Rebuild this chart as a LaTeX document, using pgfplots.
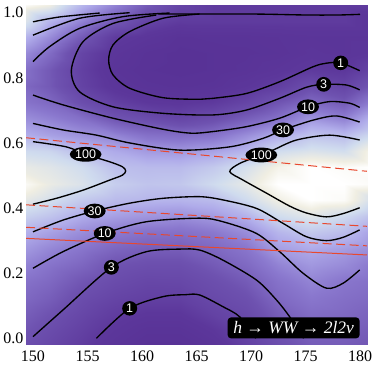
\documentclass[border=0pt]{standalone}
\usepackage{fontspec}
\setmainfont{Liberation Serif}
\newfontfamily\labfont{Liberation Sans}
\usepackage{pgfplots}
\pgfplotsset{compat=1.18}
\usetikzlibrary{shapes.geometric}

\definecolor{redline}{RGB}{232,72,46}
\pgfplotsset{
  colormap={purp}{rgb255(0cm)=(88,50,150) rgb255(4cm)=(92,55,155) rgb255(10cm)=(110,82,176)
    rgb255(15cm)=(138,120,206) rgb255(20cm)=(176,172,234) rgb255(25cm)=(208,220,238)
    rgb255(28cm)=(240,238,226) rgb255(30cm)=(255,255,255)},
  ct/.style={black, line width=1.35bp, smooth, mark=none},
  rd/.style={redline, line width=1bp, mark=none},
  rdd/.style={rd, dash pattern=on 9bp off 4.5bp},
}
\tikzset{
  lbl/.style={fill=black, text=white, ellipse, inner sep=0.8bp, minimum width=15bp,
    minimum height=14.5bp, font=\labfont\fontsize{12.5bp}{13bp}\selectfont},
}

\begin{document}
\begin{tikzpicture}
\begin{axis}[
  at={(26bp,24bp)}, anchor=south west,
  scale only axis, width=341bp, height=339bp,
  xmin=149.358, xmax=180.642, ymin=-0.0175, ymax=1.0237,
  xtick={150,155,...,180}, ytick={0,0.2,0.4,0.6,0.8,1.0},
  minor x tick num=4, minor y tick num=3,
  tick align=inside, major tick length=4.5bp, minor tick length=2.5bp,
  tick style={gray!60, line width=0.5bp},
  axis line style={gray!45, line width=0.6bp},
  ticklabel style={font=\fontsize{16bp}{19bp}\selectfont},
  /pgf/number format/assume math mode=true,
  xticklabel style={yshift=-3bp},
  yticklabel style={xshift=1bp, /pgf/number format/.cd, fixed, fixed zerofill, precision=1},
  colormap name=purp, point meta min=-0.5, point meta max=2.5,
]
% background (log10 of the plotted quantity)
\addplot[matrix plot*, shader=interp, mesh/cols=11, point meta=explicit]
  table[row sep=\\, meta=L] {
x y L\\
150 0 0.45\\ 153 0 0.25\\ 156 0 0.0\\ 159 0 -0.3\\ 162 0 -0.5\\ 165 0 -0.5\\ 168 0 -0.3\\ 171 0 0.1\\ 174 0 0.4\\ 177 0 0.62\\ 180 0 0.62\\
150 0.05 0.6\\ 153 0.05 0.37\\ 156 0.05 0.12\\ 159 0.05 -0.15\\ 162 0.05 -0.35\\ 165 0.05 -0.35\\ 168 0.05 -0.1\\ 171 0.05 0.2\\ 174 0.05 0.5\\ 177 0.05 0.72\\ 180 0.05 0.7\\
150 0.1 0.72\\ 153 0.1 0.5\\ 156 0.1 0.25\\ 159 0.1 0.02\\ 162 0.1 -0.12\\ 165 0.1 -0.12\\ 168 0.1 0.15\\ 171 0.1 0.32\\ 174 0.1 0.65\\ 177 0.1 0.85\\ 180 0.1 0.8\\
150 0.15 0.85\\ 153 0.15 0.66\\ 156 0.15 0.38\\ 159 0.15 0.2\\ 162 0.15 0.1\\ 165 0.15 0.1\\ 168 0.15 0.3\\ 171 0.15 0.45\\ 174 0.15 0.8\\ 177 0.15 0.98\\ 180 0.15 0.88\\
150 0.2 0.96\\ 153 0.2 0.8\\ 156 0.2 0.55\\ 159 0.2 0.36\\ 162 0.2 0.25\\ 165 0.2 0.27\\ 168 0.2 0.42\\ 171 0.2 0.62\\ 174 0.2 0.92\\ 177 0.2 1.12\\ 180 0.2 0.97\\
150 0.25 1.15\\ 153 0.25 0.94\\ 156 0.25 0.76\\ 159 0.25 0.5\\ 162 0.25 0.42\\ 165 0.25 0.42\\ 168 0.25 0.6\\ 171 0.25 0.8\\ 174 0.25 1.1\\ 177 0.25 1.3\\ 180 0.25 1.18\\
150 0.3 1.37\\ 153 0.3 1.14\\ 156 0.3 0.95\\ 159 0.3 0.75\\ 162 0.3 0.65\\ 165 0.3 0.65\\ 168 0.3 0.78\\ 171 0.3 0.96\\ 174 0.3 1.35\\ 177 0.3 1.48\\ 180 0.3 1.35\\
150 0.35 1.6\\ 153 0.35 1.4\\ 156 0.35 1.2\\ 159 0.35 1.03\\ 162 0.35 0.92\\ 165 0.35 0.9\\ 168 0.35 1.0\\ 171 0.35 1.2\\ 174 0.35 1.6\\ 177 0.35 1.8\\ 180 0.35 1.68\\
150 0.4 1.93\\ 153 0.4 1.75\\ 156 0.4 1.5\\ 159 0.4 1.37\\ 162 0.4 1.28\\ 165 0.4 1.22\\ 168 0.4 1.33\\ 171 0.4 1.55\\ 174 0.4 2.0\\ 177 0.4 2.15\\ 180 0.4 1.98\\
150 0.45 2.25\\ 153 0.45 2.05\\ 156 0.45 1.8\\ 159 0.45 1.65\\ 162 0.45 1.6\\ 165 0.45 1.58\\ 168 0.45 1.65\\ 171 0.45 1.98\\ 174 0.45 2.3\\ 177 0.45 2.5\\ 180 0.45 2.45\\
150 0.5 2.6\\ 153 0.5 2.25\\ 156 0.5 2.1\\ 159 0.5 1.85\\ 162 0.5 1.75\\ 165 0.5 1.78\\ 168 0.5 1.98\\ 171 0.5 2.2\\ 174 0.5 2.55\\ 177 0.5 2.8\\ 180 0.5 2.7\\
150 0.55 2.25\\ 153 0.55 2.15\\ 156 0.55 2.0\\ 159 0.55 1.7\\ 162 0.55 1.65\\ 165 0.55 1.65\\ 168 0.55 1.8\\ 171 0.55 2.05\\ 174 0.55 2.35\\ 177 0.55 2.55\\ 180 0.55 2.45\\
150 0.6 2.0\\ 153 0.6 1.93\\ 156 0.6 1.66\\ 159 0.6 1.48\\ 162 0.6 1.33\\ 165 0.6 1.3\\ 168 0.6 1.4\\ 171 0.6 1.6\\ 174 0.6 2.0\\ 177 0.6 2.1\\ 180 0.6 2.02\\
150 0.65 1.56\\ 153 0.65 1.4\\ 156 0.65 1.25\\ 159 0.65 1.12\\ 162 0.65 0.9\\ 165 0.65 0.85\\ 168 0.65 0.92\\ 171 0.65 1.2\\ 174 0.65 1.5\\ 177 0.65 1.75\\ 180 0.65 1.65\\
150 0.7 1.27\\ 153 0.7 1.1\\ 156 0.7 0.9\\ 159 0.7 0.55\\ 162 0.7 0.4\\ 165 0.7 0.25\\ 168 0.7 0.42\\ 171 0.7 0.68\\ 174 0.7 0.93\\ 177 0.7 1.3\\ 180 0.7 1.1\\
150 0.75 0.98\\ 153 0.75 0.8\\ 156 0.75 0.4\\ 159 0.75 0.1\\ 162 0.75 -0.1\\ 165 0.75 -0.15\\ 168 0.75 -0.05\\ 171 0.75 0.2\\ 174 0.75 0.52\\ 177 0.75 0.8\\ 180 0.75 0.6\\
150 0.8 0.85\\ 153 0.8 0.6\\ 156 0.8 0.15\\ 159 0.8 -0.2\\ 162 0.8 -0.35\\ 165 0.8 -0.4\\ 168 0.8 -0.35\\ 171 0.8 -0.15\\ 174 0.8 0.07\\ 177 0.8 0.4\\ 180 0.8 0.2\\
150 0.85 1.0\\ 153 0.85 0.6\\ 156 0.85 0.1\\ 159 0.85 -0.3\\ 162 0.85 -0.45\\ 165 0.85 -0.5\\ 168 0.85 -0.45\\ 171 0.85 -0.35\\ 174 0.85 -0.2\\ 177 0.85 -0.02\\ 180 0.85 -0.1\\
150 0.9 1.3\\ 153 0.9 0.85\\ 156 0.9 0.2\\ 159 0.9 -0.2\\ 162 0.9 -0.4\\ 165 0.9 -0.5\\ 168 0.9 -0.45\\ 171 0.9 -0.4\\ 174 0.9 -0.35\\ 177 0.9 -0.2\\ 180 0.9 -0.25\\
150 0.95 1.7\\ 153 0.95 1.2\\ 156 0.95 0.6\\ 159 0.95 0.0\\ 162 0.95 -0.2\\ 165 0.95 -0.4\\ 168 0.95 -0.35\\ 171 0.95 -0.35\\ 174 0.95 -0.3\\ 177 0.95 -0.25\\ 180 0.95 -0.25\\
150 1.0 2.3\\ 153 1.0 1.6\\ 156 1.0 1.1\\ 159 1.0 0.6\\ 162 1.0 0.2\\ 165 1.0 0.0\\ 168 1.0 0.0\\ 171 1.0 0.0\\ 174 1.0 0.0\\ 177 1.0 0.0\\ 180 1.0 0.0\\
};

% contour lines
\addplot[ct] coordinates {(179.97,0.822) (178.23,0.846) (176.92,0.845) (175.69,0.834) (172.63,0.788) (169.58,0.752) (166.51,0.737) (165.29,0.734) (161.93,0.739) (158.87,0.768) (157.34,0.809) (156.94,0.855) (157.34,0.901) (158.87,0.942) (161.93,0.983) (165.29,0.996)};
\addplot[ct] coordinates {(161.5,0.996) (170,0.996) (175,0.993) (178,0.993) (180,0.995)};
\addplot[ct] coordinates {(179.97,0.763) (178.75,0.778) (176.67,0.780) (175.08,0.771) (172.63,0.737) (169.58,0.701) (166.51,0.686) (161.93,0.691) (157.34,0.711) (154.28,0.757) (153.52,0.824) (154.59,0.911) (157.34,0.967) (161.32,0.993)};
\addplot[ct] coordinates {(179.97,0.709) (179.06,0.722) (177.22,0.727) (175.23,0.711) (172.63,0.676) (169.58,0.650) (166.51,0.635) (164.5,0.630) (161.93,0.642) (157.34,0.676) (152.75,0.717) (150,0.747)};
\addplot[ct] coordinates {(179.97,0.664) (177.83,0.683) (175.69,0.670) (172.94,0.640) (171.1,0.614) (168.05,0.588) (163.46,0.578) (158.87,0.600) (155.82,0.624) (152.75,0.640) (150,0.660)};
\addplot[ct] coordinates {(150,0.604) (153.06,0.588) (154.83,0.565) (157.04,0.542) (158.2,0.527) (158.5,0.514) (158.2,0.501) (157.04,0.486) (154.59,0.455) (152.15,0.430) (150,0.412)};
\addplot[ct] coordinates {(179.97,0.609) (177.22,0.624) (174.17,0.609) (172.02,0.578) (170.95,0.563) (168.96,0.537) (168.05,0.512) (169.27,0.486) (171.41,0.446) (173.55,0.406) (175.08,0.385) (176.92,0.373) (178.44,0.383) (179.97,0.401)};
\addplot[ct] coordinates {(150,0.327) (152.75,0.363) (155.66,0.391) (158.87,0.415) (161.93,0.430) (165.29,0.435) (167.43,0.425) (170.50,0.399) (172.94,0.353) (175.08,0.312) (176.92,0.300) (178.44,0.310) (179.97,0.333)};
\addplot[ct] coordinates {(150,0.215) (152.75,0.266) (156.58,0.322) (160.40,0.358) (165.29,0.369) (167.43,0.358) (170.50,0.322) (172.63,0.266) (174.77,0.200) (176.92,0.154) (178.44,0.169) (179.97,0.210)};
\addplot[ct] coordinates {(150,0.005) (152.75,0.087) (157.19,0.218) (160.40,0.266) (163.5,0.274) (165.29,0.271) (167.43,0.240) (170.50,0.179) (172.33,0.118) (173.55,0.066) (174.83,0.0)};
\addplot[ct] coordinates {(155.82,0.0) (158.87,0.092) (161.93,0.128) (164,0.134) (165.29,0.133) (167.43,0.097) (168.96,0.066) (170.43,0.0)};
\addplot[ct] coordinates {(150,0.972) (152.45,0.987) (156.12,0.999)};
\addplot[ct] coordinates {(150,0.931) (154.28,0.983) (158.87,1.0)};
\addplot[ct] coordinates {(150,0.850) (151.53,0.896) (154.28,0.952) (158.26,0.988) (162.54,0.999)};

% exclusion lines
\addplot[rdd] coordinates {(149.36,0.616) (180.64,0.513)};
\addplot[rdd] coordinates {(149.36,0.410) (180.64,0.344)};
\addplot[rdd] coordinates {(149.36,0.341) (180.64,0.284)};
\addplot[rd] coordinates {(149.36,0.307) (180.64,0.256)};

% contour labels
\node[lbl] at (axis cs:178.23,0.846) {1};
\node[lbl] at (axis cs:176.67,0.780) {3};
\node[lbl] at (axis cs:175.23,0.711) {10};
\node[lbl] at (axis cs:172.94,0.640) {30};
\node[lbl] at (axis cs:170.95,0.563) {100};
\node[lbl] at (axis cs:154.83,0.565) {100};
\node[lbl] at (axis cs:155.66,0.391) {30};
\node[lbl] at (axis cs:156.58,0.322) {10};
\node[lbl] at (axis cs:157.19,0.218) {3};
\node[lbl] at (axis cs:158.87,0.092) {1};

\node[fill=black, text=white, rounded corners=3.5bp, minimum width=132bp, minimum height=21bp,
  inner sep=0pt, font=\fontsize{17.5bp}{20bp}\selectfont]
  at (axis cs:173.91,0.032)
  {\itshape h\hspace{0.25em}→\hspace{0.25em}WW\hspace{0.25em}→\hspace{0.25em}2l2ν};
\end{axis}
\pgfresetboundingbox
\path (0,0) rectangle (374bp,368bp);
\end{tikzpicture}
\end{document}
